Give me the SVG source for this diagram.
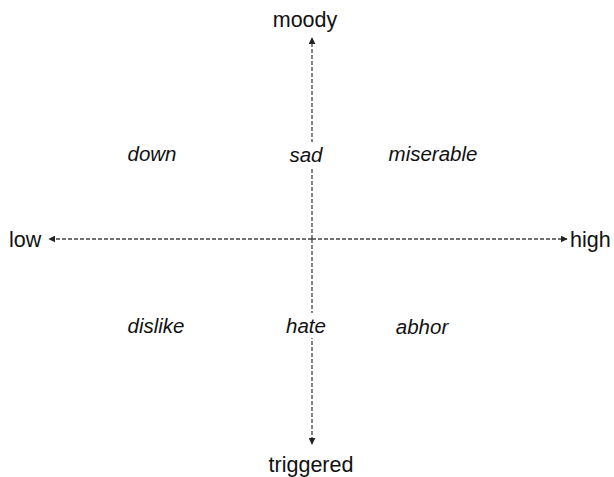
<svg xmlns="http://www.w3.org/2000/svg" width="614" height="477" viewBox="0 0 614 477">
<style>
.ax{stroke:#444;stroke-width:1.3;stroke-dasharray:4 2;fill:none}
.lbl{font-family:"Liberation Sans",Arial,sans-serif;font-size:21.5px;fill:#111}
.em{font-family:"Liberation Sans",Arial,sans-serif;font-size:20.5px;font-style:italic;fill:#111;text-anchor:middle}
</style>
<defs>
<marker id="ah" viewBox="0 0 10 10" refX="9" refY="5" markerWidth="7" markerHeight="7" orient="auto" markerUnits="userSpaceOnUse">
<path d="M0,0 L10,5 L0,10 z" fill="#222"/>
</marker>
</defs>
<rect width="614" height="477" fill="#fff"/>
<g id="connectors">
<line class="ax" x1="312" y1="239" x2="312" y2="38" marker-end="url(#ah)"/>
<line class="ax" x1="312" y1="239" x2="312" y2="444" marker-end="url(#ah)"/>
<line class="ax" x1="312" y1="239" x2="49" y2="239" marker-end="url(#ah)"/>
<line class="ax" x1="312" y1="239" x2="567" y2="239" marker-end="url(#ah)"/>
</g>
<g id="moody"><text class="lbl" x="305" y="27" text-anchor="middle">moody</text></g>
<g id="triggered"><text class="lbl" x="311" y="472" text-anchor="middle">triggered</text></g>
<g id="low"><text class="lbl" x="9" y="247">low</text></g>
<g id="high"><text class="lbl" x="570" y="247">high</text></g>
<g id="down"><text class="em" x="152" y="161">down</text></g>
<g id="sad"><rect x="282" y="142" width="48" height="26" fill="#fff"/><text class="em" x="306" y="162">sad</text></g>
<g id="miserable"><text class="em" x="433" y="161">miserable</text></g>
<g id="dislike"><text class="em" x="156" y="333">dislike</text></g>
<g id="hate"><rect x="281" y="313" width="50" height="25" fill="#fff"/><text class="em" x="306" y="333">hate</text></g>
<g id="abhor"><text class="em" x="422" y="334">abhor</text></g>
</svg>
